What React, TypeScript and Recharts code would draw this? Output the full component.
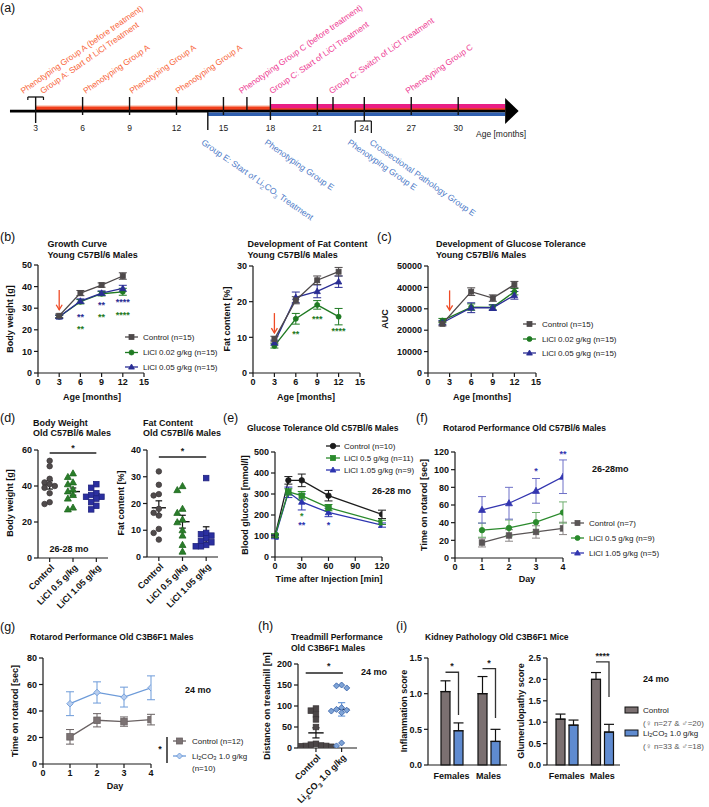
import React from 'react';
import {
  ComposedChart, LineChart, Line, XAxis, YAxis, ErrorBar, ReferenceLine, ReferenceDot,
  ReferenceArea, ScatterChart, Scatter, BarChart, Bar,
} from 'recharts';

const FONT = 'Arial, "Liberation Sans", Helvetica, sans-serif';

const C_GRAY = '#4e494a';
const C_GREEN = '#1f7a22';
const C_NAVY = '#2a2d94';
const C_BLACK = '#1c1c1c';
const C_LIGHTBLUE = '#6d9bd9';
const C_RED_ARROW = '#ef4b26';
const TL_RED = '#f2401d';
const TL_ORANGE = '#f8653a';
const TL_PINK = '#e91e84';
const TL_PINK_TXT = '#ee3b93';
const TL_BLUE = '#2f5faf';
const TL_BLUE_TXT = '#4f7cc8';
const BAR_GRAY = '#7b7071';
const BAR_BLUE = '#5f8bd0';

// ---------------- (a) timeline ----------------
const tlMonths = [3, 6, 9, 12, 15, 18, 21, 24, 27, 30];
const tlMinor = [16.5, 22];
const tlGroupAStart = 3;
const tlGroupCStart = 18;
const tlGroupEStart = 14;
const tlAxisStart = 1.36;
const tlAxisEnd = 33;
const tlUpLabels = [
  'Phenotyping Group A (before treatment)', 'Group A: Start of LiCl Treatment',
  'Phenotyping Group A', 'Phenotyping Group A', 'Phenotyping Group A',
  'Phenotyping Group C (before treatment)', 'Group C: Start of LiCl Treatment',
  'Group C: Switch of LiCl Treatment', 'Phenotyping Group C',
];
const tlUpMonths = [2.2, 3.45, 6.2, 9.15, 12.1, 16.15, 18.1, 21.9, 26.8];
const tlUpGroup = ['A', 'A', 'A', 'A', 'A', 'C', 'C', 'C', 'C'];
const tlDownLabels = ['Group E: Start of Li2CO3 Treatment', 'Phenotyping Group E', 'Phenotyping Group E', 'Crossectional Pathology Group E'];
const tlDownMonths = [13.8, 17.85, 23.15, 24.55];

// ---------------- (b) growth ----------------
const growthAge = [3, 6, 9, 12];
const growthControl = [26.5, 37, 40.7, 44.9];
const growthControlErr = [0.8, 1.2, 1.0, 1.5];
const growthLow = [26, 33, 36.7, 37.6];
const growthLowErr = [0.7, 1.0, 1.0, 1.6];
const growthHigh = [26, 33.3, 37, 39.2];
const growthHighErr = [0.7, 1.0, 1.0, 1.4];

// ---------------- (b) fat ----------------
const fatAge = [3, 6, 9, 12];
const fatControl = [9.5, 20.4, 26, 28.4];
const fatControlErr = [0.8, 1.0, 1.2, 1.2];
const fatLow = [7.6, 15.2, 19.1, 15.8];
const fatLowErr = [0.6, 1.5, 1.2, 2.3];
const fatHigh = [8.5, 21.2, 22.9, 25.6];
const fatHighErr = [0.7, 1.5, 1.8, 1.6];

// ---------------- (c) AUC ----------------
const aucAge = [2, 6, 9, 12];
const aucControl = [23000, 38000, 35000, 41300];
const aucControlErr = [1000, 1800, 1500, 1500];
const aucLow = [24500, 30800, 30700, 38000];
const aucLowErr = [1000, 1500, 1200, 1500];
const aucHigh = [23500, 30500, 30500, 36300];
const aucHighErr = [1000, 2300, 1300, 1800];

// ---------------- (d) dot plots ----------------
const dotCats = ['Control', 'LiCl 0.5 g/kg', 'LiCl 1.05 g/kg'];
const bwControl = [54, 51, 44, 42, 41, 40, 39, 36, 31, 30];
const bwLow = [47, 45, 42, 41, 38, 37, 35, 33, 28, 27];
const bwHigh = [41, 39, 36, 35, 34, 34, 33, 31, 29, 27];
const bwMean = [40.6, 36.9, 34.3];
const bwSem = [2.3, 2.0, 1.5];
const fdControl = [32, 27, 23.5, 23, 18, 16.5, 15.5, 10.5, 9, 6.5];
const fdLow = [26.5, 25, 18, 16.5, 14, 13, 10, 8, 4.5, 2];
const fdHigh = [29.5, 9, 8.5, 8, 7, 6, 5.5, 4.5, 4, 4];
const fdMean = [18.4, 13.2, 8.4];
const fdSem = [2.6, 2.4, 2.9];

// ---------------- (e) glucose ----------------
const glucTime = [0, 15, 30, 60, 120];
const glucControl = [100, 365, 365, 292, 203];
const glucControlErr = [8, 18, 30, 25, 20];
const glucLow = [103, 310, 292, 235, 165];
const glucLowErr = [8, 15, 20, 15, 10];
const glucHigh = [95, 308, 262, 212, 152];
const glucHighErr = [8, 25, 38, 20, 10];

// ---------------- (f) rotarod C57 ----------------
const days = [1, 2, 3, 4];
const rotControl = [17.5, 25.5, 29.5, 33.5];
const rotControlErr = [5, 6.5, 7, 7];
const rotLow = [31.5, 34, 40.5, 51.5];
const rotLowErr = [8, 9, 11, 12];
const rotHigh = [54.5, 62, 76, 92];
const rotHighErr = [15, 18, 14, 19];

// ---------------- (g) rotarod C3B6F1 ----------------
const c3Control = [20.5, 33, 32, 33.5];
const c3ControlErr = [5.5, 5, 3.5, 4];
const c3Li = [45.5, 54, 50.5, 57.5];
const c3LiErr = [9, 8, 7.5, 9];

// ---------------- (h) treadmill ----------------
const tmControl = [94, 89, 80, 68, 50, 10, 8, 6, 5, 5, 4, 3];
const tmLi = [150, 148, 143, 96, 92, 90, 88, 84, 12, 5];
const tmMean = [36, 92];
const tmSem = [12, 16];

// ---------------- (i) kidney ----------------
const kidneyGroups = ['Females', 'Males'];
const inflControl = [1.03, 1.0];
const inflControlErr = [0.15, 0.24];
const inflLi = [0.48, 0.33];
const inflLiErr = [0.11, 0.17];
const glumControl = [1.07, 2.0];
const glumControlErr = [0.12, 0.16];
const glumLi = [0.93, 0.77];
const glumLiErr = [0.12, 0.18];

// ---------------- helpers ----------------
const Y_W = 40, M_T = 14, M_R = 14;
function frame(L: number, T: number, R: number, B: number, xH = 40) {
  return {
    left: L - Y_W, top: T - M_T, width: Y_W + (R - L) + M_R, height: M_T + (B - T) + xH, xH,
    margin: { top: M_T, right: M_R, left: 0, bottom: 0 },
  };
}

const axisCommon: any = {
  stroke: '#1a1a1a',
  tick: { fontSize: 9, fontWeight: 700, fill: '#111', fontFamily: FONT },
  tickSize: 4,
  tickMargin: 2,
  axisLine: { stroke: '#1a1a1a', strokeWidth: 1.2 },
  tickLine: { stroke: '#1a1a1a', strokeWidth: 1.2 },
};

function markerEl(kind: string, cx: number, cy: number, s: number, fill: string, stroke: string) {
  if (kind === 'square') return <rect x={cx - s / 2} y={cy - s / 2} width={s} height={s} fill={fill} stroke={stroke} strokeWidth={0.8} />;
  if (kind === 'circle') return <circle cx={cx} cy={cy} r={s / 2} fill={fill} stroke={stroke} strokeWidth={0.8} />;
  if (kind === 'tri') return <polygon points={`${cx},${cy - s * 0.6} ${cx - s * 0.58},${cy + s * 0.42} ${cx + s * 0.58},${cy + s * 0.42}`} fill={fill} stroke={stroke} strokeWidth={0.8} />;
  return <polygon points={`${cx},${cy - s / 2} ${cx + s / 2},${cy} ${cx},${cy + s / 2} ${cx - s / 2},${cy}`} fill={fill} stroke={stroke} strokeWidth={0.9} />;
}

const mk = (kind: string, fill: string, stroke: string, s: number) => (p: any) => {
  if (p.cx == null || p.cy == null) return <g key={p.key} />;
  return <g key={p.key ?? `${p.cx}-${p.cy}`}>{markerEl(kind, p.cx, p.cy, s, fill, stroke)}</g>;
};

const starShape = (text: string, color: string, fs = 9) => (p: any) => (
  <text x={p.cx} y={p.cy + 2} textAnchor="middle" dominantBaseline="central" fontSize={fs} fontWeight={700} fill={color} fontFamily={FONT}>{text}</text>
);

const arrowHead = (color: string) => (p: any) => (
  <path d={`M ${p.cx - 3} ${p.cy - 5} L ${p.cx} ${p.cy} L ${p.cx + 3} ${p.cy - 5}`} fill="none" stroke={color} strokeWidth={1.3} />
);

function rowsOf(xs: number[], cols: Record<string, number[]>) {
  return xs.map((x, i) => {
    const r: any = { x };
    Object.keys(cols).forEach((k) => { r[k] = cols[k][i]; });
    return r;
  });
}

type SeriesDef = { key: string; errKey: string; color: string; marker: string; fill?: string; size: number; err?: string };

function XYChart(props: {
  L: number; T: number; R: number; B: number; rows: any[];
  xDomain: [number, number]; xTicks: number[]; yDomain: [number, number]; yTicks: number[];
  series: SeriesDef[]; children?: React.ReactNode;
}) {
  const f = frame(props.L, props.T, props.R, props.B);
  return (
    <div style={{ position: 'absolute', left: f.left, top: f.top }}>
      <LineChart width={f.width} height={f.height} margin={f.margin} data={props.rows}>
        <XAxis type="number" dataKey="x" domain={props.xDomain} ticks={props.xTicks} interval={0} height={f.xH} allowDataOverflow {...axisCommon} />
        <YAxis type="number" domain={props.yDomain} ticks={props.yTicks} interval={0} width={Y_W} allowDataOverflow {...axisCommon} />
        {props.series.map((s) => (
          <Line key={s.key} dataKey={s.key} stroke={s.color} strokeWidth={1.3} isAnimationActive={false}
            dot={mk(s.marker, s.fill ?? s.color, s.color, s.size)} activeDot={false}>
            <ErrorBar dataKey={s.errKey} width={4} stroke={s.err ?? s.color} strokeWidth={1} direction="y" />
          </Line>
        ))}
        {props.children}
      </LineChart>
    </div>
  );
}

function swarm(vals: number[], center: number, thr: number, step: number) {
  const placed: { v: number; k: number }[] = [];
  const order = [0, -1, 1, -2, 2, -3, 3, -4, 4];
  return vals.map((v) => {
    const used = placed.filter((p) => Math.abs(p.v - v) < thr).map((p) => p.k);
    const k = order.find((o) => !used.includes(o)) ?? 0;
    placed.push({ v, k });
    return { x: center + k * step, y: v };
  });
}

function seg(key: string, x1: number, y1: number, x2: number, y2: number, color = '#111', w = 1.3) {
  return <ReferenceLine key={key} segment={[{ x: x1, y: y1 }, { x: x2, y: y2 }]} stroke={color} strokeWidth={w} ifOverflow="visible" />;
}

function meanSem(prefix: string, x: number, mean: number, sem: number, color: string, meanColor = '#111', half = 0.3, cap = 0.14) {
  return [
    seg(`${prefix}m`, x - half, mean, x + half, mean, meanColor, 1.4),
    seg(`${prefix}v`, x, mean - sem, x, mean + sem, color, 1.2),
    seg(`${prefix}t`, x - cap, mean + sem, x + cap, mean + sem, color, 1.2),
    seg(`${prefix}b`, x - cap, mean - sem, x + cap, mean - sem, color, 1.2),
  ];
}

const LiCO = (fs: number) => [
  <tspan key="a">Li</tspan>,
  <tspan key="b" dy={fs * 0.3} fontSize={fs * 0.7}>2</tspan>,
  <tspan key="c" dy={-fs * 0.3}>CO</tspan>,
  <tspan key="d" dy={fs * 0.3} fontSize={fs * 0.7}>3</tspan>,
  <tspan key="e" dy={-fs * 0.3}> 1.0 g/kg</tspan>,
];

// ---------------- panels ----------------
function Timeline() {
  const W = 709, H = 240;
  const rows = tlMonths.map((m) => ({ m, y: 111 }));
  const tickBottom = (m: number) => (m === 3 ? 123 : m === 18 ? 120 : m === 24 ? 121 : 115);
  return (
    <div style={{ position: 'absolute', left: 0, top: 0 }}>
      <ComposedChart width={W} height={H} data={rows} margin={{ top: 0, bottom: 0, left: 4.35, right: W - 520.8 }}>
        <XAxis type="number" dataKey="m" domain={[1, 34]} hide allowDataOverflow />
        <YAxis type="number" domain={[0, H]} reversed hide allowDataOverflow />
        <Line dataKey="y" stroke="none" dot={false} isAnimationActive={false} />
        <ReferenceArea x1={tlGroupAStart} x2={tlAxisEnd} y1={106} y2={110.3} fill={TL_RED} fillOpacity={1} stroke="none" ifOverflow="visible" />
        <ReferenceArea x1={tlGroupAStart} x2={tlGroupCStart} y1={105.4} y2={106.8} fill="#f8a58e" fillOpacity={1} stroke="none" ifOverflow="visible" />
        <ReferenceArea x1={tlGroupCStart} x2={tlAxisEnd} y1={104} y2={108.3} fill={TL_PINK} fillOpacity={1} stroke="none" ifOverflow="visible" />
        <ReferenceArea x1={tlAxisStart} x2={tlAxisEnd} y1={109.8} y2={112.6} fill="#000" fillOpacity={1} stroke="none" ifOverflow="visible" />
        <ReferenceArea x1={tlGroupEStart} x2={tlAxisEnd} y1={112.6} y2={116} fill={TL_BLUE} fillOpacity={1} stroke="none" ifOverflow="visible" />
        <ReferenceDot x={tlAxisEnd} y={111} r={1} ifOverflow="visible"
          shape={(p: any) => <polygon points={`${p.cx},${p.cy - 13} ${p.cx + 13.5},${p.cy} ${p.cx},${p.cy + 13}`} fill="#000" />} />
        {tlMonths.map((m) => seg(`t${m}`, m, 97, m, tickBottom(m), '#111', 1.4))}
        {tlMinor.map((m) => seg(`tm${m}`, m, 97, m, 110, '#111', 1.4))}
        {seg('tE', tlGroupEStart, 112, tlGroupEStart, 130, '#111', 1.4)}
        {seg('br3', 2.5, 97, 3.5, 97, '#111', 1.3)}
        {seg('br3l', 2.5, 97, 2.5, 100, '#111', 1.2)}
        {seg('br3r', 3.5, 97, 3.5, 100, '#111', 1.2)}
        {seg('bx24t', 23.42, 121, 24.45, 121, '#111', 1.2)}
        {seg('bx24l', 23.42, 121, 23.42, 133, '#111', 1.2)}
        {seg('bx24r', 24.45, 121, 24.45, 133, '#111', 1.2)}
        {tlMonths.map((m) => (
          <ReferenceDot key={`tl${m}`} x={m} y={128} r={1} ifOverflow="visible"
            shape={(p: any) => <text x={p.cx} y={p.cy} textAnchor="middle" dominantBaseline="central" fontSize={8.5} fill="#222" fontFamily={FONT}>{m}</text>} />
        ))}
        {tlUpLabels.map((t, i) => (
          <ReferenceDot key={`u${i}`} x={tlUpMonths[i]} y={94} r={1} ifOverflow="visible"
            shape={(p: any) => (
              <text x={p.cx} y={p.cy} transform={`rotate(-35 ${p.cx} ${p.cy})`} fontSize={8.3}
                fill={tlUpGroup[i] === 'A' ? TL_ORANGE : TL_PINK_TXT} fontFamily={FONT}>{t}</text>
            )} />
        ))}
        {tlDownLabels.map((t, i) => (
          <ReferenceDot key={`d${i}`} x={tlDownMonths[i]} y={138} r={1} ifOverflow="visible"
            shape={(p: any) => (
              <text x={p.cx} y={p.cy + 7} transform={`rotate(35 ${p.cx} ${p.cy})`} fontSize={8.6} fill={TL_BLUE_TXT} fontFamily={FONT}>
                {t.includes('Li2CO3') ? [
                  <tspan key="a">Group E: Start of Li</tspan>,
                  <tspan key="b" dy={2.5} fontSize={6}>2</tspan>,
                  <tspan key="c" dy={-2.5}>CO</tspan>,
                  <tspan key="d" dy={2.5} fontSize={6}>3</tspan>,
                  <tspan key="e" dy={-2.5}> Treatment</tspan>,
                ] : t}
              </text>
            )} />
        ))}
      </ComposedChart>
    </div>
  );
}

function GrowthChart() {
  const rows = rowsOf(growthAge, { c: growthControl, ce: growthControlErr, lo: growthLow, loe: growthLowErr, hi: growthHigh, hie: growthHighErr });
  return (
    <XYChart L={38} T={265} R={144} B={373} rows={rows} xDomain={[0, 15]} xTicks={[0, 3, 6, 9, 12, 15]} yDomain={[0, 50]} yTicks={[0, 10, 20, 30, 40, 50]}
      series={[
        { key: 'lo', errKey: 'loe', color: C_GREEN, marker: 'circle', size: 5 },
        { key: 'hi', errKey: 'hie', color: C_NAVY, marker: 'tri', size: 5.5 },
        { key: 'c', errKey: 'ce', color: C_GRAY, marker: 'square', size: 5 },
      ]}>
      {seg('ar', 3, 38.4, 3, 29.3, C_RED_ARROW, 1.3)}
      <ReferenceDot x={3} y={29.3} r={1} ifOverflow="visible" shape={arrowHead(C_RED_ARROW)} />
      <ReferenceDot x={6} y={26.9} r={1} ifOverflow="visible" shape={starShape('**', C_NAVY)} />
      <ReferenceDot x={6} y={21.3} r={1} ifOverflow="visible" shape={starShape('**', C_GREEN)} />
      <ReferenceDot x={9} y={32.4} r={1} ifOverflow="visible" shape={starShape('**', C_NAVY)} />
      <ReferenceDot x={9} y={26.9} r={1} ifOverflow="visible" shape={starShape('**', C_GREEN)} />
      <ReferenceDot x={12} y={33.6} r={1} ifOverflow="visible" shape={starShape('****', C_NAVY)} />
      <ReferenceDot x={12} y={27.8} r={1} ifOverflow="visible" shape={starShape('****', C_GREEN)} />
    </XYChart>
  );
}

function FatChart() {
  const rows = rowsOf(fatAge, { c: fatControl, ce: fatControlErr, lo: fatLow, loe: fatLowErr, hi: fatHigh, hie: fatHighErr });
  return (
    <XYChart L={253} T={266} R={360} B={373} rows={rows} xDomain={[0, 15]} xTicks={[0, 3, 6, 9, 12, 15]} yDomain={[0, 30]} yTicks={[0, 10, 20, 30]}
      series={[
        { key: 'lo', errKey: 'loe', color: C_GREEN, marker: 'circle', size: 5 },
        { key: 'hi', errKey: 'hie', color: C_NAVY, marker: 'tri', size: 5.5 },
        { key: 'c', errKey: 'ce', color: C_GRAY, marker: 'square', size: 5 },
      ]}>
      {seg('ar', 3, 16.8, 3, 11.2, C_RED_ARROW, 1.3)}
      <ReferenceDot x={3} y={11.2} r={1} ifOverflow="visible" shape={arrowHead(C_RED_ARROW)} />
      <ReferenceDot x={6} y={11.4} r={1} ifOverflow="visible" shape={starShape('**', C_GREEN)} />
      <ReferenceDot x={9} y={15.6} r={1} ifOverflow="visible" shape={starShape('***', C_GREEN)} />
      <ReferenceDot x={12} y={12.3} r={1} ifOverflow="visible" shape={starShape('****', C_GREEN)} />
    </XYChart>
  );
}

function AucChart() {
  const rows = rowsOf(aucAge, { c: aucControl, ce: aucControlErr, lo: aucLow, loe: aucLowErr, hi: aucHigh, hie: aucHighErr });
  return (
    <XYChart L={428} T={266} R={536} B={373} rows={rows} xDomain={[0, 15]} xTicks={[0, 3, 6, 9, 12, 15]} yDomain={[0, 50000]} yTicks={[0, 10000, 20000, 30000, 40000, 50000]}
      series={[
        { key: 'lo', errKey: 'loe', color: C_GREEN, marker: 'circle', size: 5 },
        { key: 'hi', errKey: 'hie', color: C_NAVY, marker: 'tri', size: 5.5 },
        { key: 'c', errKey: 'ce', color: C_GRAY, marker: 'square', size: 5 },
      ]}>
      {seg('ar', 3, 38600, 3, 29300, C_RED_ARROW, 1.3)}
      <ReferenceDot x={3} y={29300} r={1} ifOverflow="visible" shape={arrowHead(C_RED_ARROW)} />
    </XYChart>
  );
}

function DotPlot(p: {
  L: number; T: number; R: number; B: number; groups: number[][]; kinds: string[]; fills: string[]; strokes: string[]; sizes: number[];
  labels: React.ReactNode[]; xDomain: [number, number]; yDomain: [number, number]; yTicks: number[];
  means: number[]; sems: number[]; semColors: string[]; meanColors: string[]; thr: number; step: number;
  sig: { x1: number; x2: number; y: number; sx: number; sy: number };
}) {
  const f = frame(p.L, p.T, p.R, p.B, 70);
  const cats = p.groups.map((_, i) => i + 1);
  const tick = (tp: any) => {
    const i = Math.round(tp.payload.value) - 1;
    const x = tp.x + 3, y = tp.y + 2;
    return (
      <text x={x} y={y} transform={`rotate(-45 ${x} ${y})`} textAnchor="end" dominantBaseline="central" fontSize={9} fontWeight={700} fill="#111" fontFamily={FONT}>
        {p.labels[i]}
      </text>
    );
  };
  return (
    <div style={{ position: 'absolute', left: f.left, top: f.top }}>
      <ScatterChart width={f.width} height={f.height} margin={f.margin}>
        <XAxis type="number" dataKey="x" domain={p.xDomain} ticks={cats} interval={0} height={f.xH} allowDataOverflow {...axisCommon} tick={tick} />
        <YAxis type="number" dataKey="y" domain={p.yDomain} ticks={p.yTicks} interval={0} width={Y_W} allowDataOverflow {...axisCommon} />
        {p.groups.map((g, i) => (
          <Scatter key={i} data={swarm(g, i + 1, p.thr, p.step)} isAnimationActive={false}
            shape={mk(p.kinds[i], p.fills[i], p.strokes[i], p.sizes[i])} />
        ))}
        {p.groups.map((_, i) => meanSem(`ms${i}`, i + 1, p.means[i], p.sems[i], p.semColors[i], p.meanColors[i]))}
        {seg('sig', p.sig.x1, p.sig.y, p.sig.x2, p.sig.y, '#222', 1.4)}
        <ReferenceDot x={p.sig.sx} y={p.sig.sy} r={1} ifOverflow="visible" shape={starShape('*', '#222')} />
      </ScatterChart>
    </div>
  );
}

function GlucoseChart() {
  const rows = rowsOf(glucTime, { c: glucControl, ce: glucControlErr, lo: glucLow, loe: glucLowErr, hi: glucHigh, hie: glucHighErr });
  return (
    <XYChart L={275} T={452} R={382} B={557} rows={rows} xDomain={[0, 120]} xTicks={[0, 30, 60, 90, 120]} yDomain={[0, 500]} yTicks={[0, 100, 200, 300, 400, 500]}
      series={[
        { key: 'c', errKey: 'ce', color: C_BLACK, marker: 'circle', size: 5.5 },
        { key: 'hi', errKey: 'hie', color: '#2c34b0', marker: 'tri', size: 5.5 },
        { key: 'lo', errKey: 'loe', color: '#2a8a2c', marker: 'square', size: 5.5 },
      ]}>
      <ReferenceDot x={30} y={205} r={1} ifOverflow="visible" shape={starShape('*', '#2a8a2c')} />
      <ReferenceDot x={30} y={163} r={1} ifOverflow="visible" shape={starShape('**', '#2c34b0')} />
      <ReferenceDot x={60} y={163} r={1} ifOverflow="visible" shape={starShape('*', '#2c34b0')} />
    </XYChart>
  );
}

function RotarodChart() {
  const rows = rowsOf(days, { c: rotControl, ce: rotControlErr, lo: rotLow, loe: rotLowErr, hi: rotHigh, hie: rotHighErr });
  return (
    <XYChart L={455} T={452} R={563} B={558} rows={rows} xDomain={[0, 4]} xTicks={[0, 1, 2, 3, 4]} yDomain={[0, 120]} yTicks={[0, 20, 40, 60, 80, 100, 120]}
      series={[
        { key: 'c', errKey: 'ce', color: '#5a5556', marker: 'square', size: 5.5, err: '#8a8585' },
        { key: 'lo', errKey: 'loe', color: '#2a8a2c', marker: 'circle', size: 5.5, err: '#6fae6f' },
        { key: 'hi', errKey: 'hie', color: '#3336b0', marker: 'tri', size: 6, err: '#6e70c8' },
      ]}>
      <ReferenceDot x={3} y={100.6} r={1} ifOverflow="visible" shape={starShape('*', '#3336b0')} />
      <ReferenceDot x={4} y={119.8} r={1} ifOverflow="visible" shape={starShape('**', '#3336b0')} />
    </XYChart>
  );
}

function C3RotarodChart() {
  const rows = rowsOf(days, { c: c3Control, ce: c3ControlErr, li: c3Li, lie: c3LiErr });
  return (
    <XYChart L={43} T={658} R={151} B={764} rows={rows} xDomain={[0, 4]} xTicks={[0, 1, 2, 3, 4]} yDomain={[0, 80]} yTicks={[0, 20, 40, 60, 80]}
      series={[
        { key: 'c', errKey: 'ce', color: '#6a6263', marker: 'square', size: 6.5, fill: '#7b7273' },
        { key: 'li', errKey: 'lie', color: C_LIGHTBLUE, marker: 'diamond', size: 6.5, fill: '#b7cdee' },
      ]} />
  );
}

function TreadmillChart() {
  return (
    <DotPlot L={298} T={664} R={357} B={748} groups={[tmControl, tmLi]} kinds={['square', 'diamond']}
      fills={['#4b4647', '#7ea3d6']} strokes={['#3b3637', '#3e68ad']} sizes={[5.5, 6]}
      labels={['Control', LiCO(9)]} xDomain={[0.3, 2.6]} yDomain={[0, 200]} yTicks={[0, 50, 100, 150, 200]}
      means={tmMean} sems={tmSem} semColors={['#111', C_LIGHTBLUE]} meanColors={['#111', '#222']} thr={12} step={0.2}
      sig={{ x1: 0.6, x2: 2.05, y: 178.6, sx: 1.5, sy: 199 }} />
  );
}

function bracketLabel(rows: any[], levels: (number | null)[], ends: number[], stars: string[], gap: number) {
  return (p: any) => {
    let i = p.index;
    if (i == null) i = rows.findIndex((r) => r.c === p.value);
    if (i == null || i < 0 || levels[i] == null || !p.value) return null;
    const ppu = p.height / p.value;
    const base = p.y + p.height;
    const x1 = p.x + p.width / 2;
    const x2 = x1 + p.width + gap;
    const yTop = base - (levels[i] as number) * ppu;
    const yEnd = base - ends[i] * ppu;
    return (
      <g>
        <path d={`M ${x1} ${yTop} L ${x2} ${yTop} L ${x2} ${yEnd}`} fill="none" stroke="#333" strokeWidth={1.3} />
        <text x={(x1 + x2) / 2} y={yTop - 6} textAnchor="middle" dominantBaseline="central" fontSize={9} fontWeight={700} fill="#222" fontFamily={FONT}>{stars[i]}</text>
      </g>
    );
  };
}

function KidneyChart(p: {
  L: number; T: number; R: number; B: number; ctrl: number[]; ctrlErr: number[]; li: number[]; liErr: number[];
  yDomain: [number, number]; yTicks: number[]; padLeft: number; levels: (number | null)[]; ends: number[]; stars: string[];
}) {
  const f = frame(p.L, p.T, p.R, p.B);
  const rows = kidneyGroups.map((g, i) => ({ g, c: p.ctrl[i], ce: [0, p.ctrlErr[i]], l: p.li[i], le: [0, p.liErr[i]] }));
  const gap = 4;
  return (
    <div style={{ position: 'absolute', left: f.left, top: f.top }}>
      <BarChart width={f.width} height={f.height} margin={f.margin} data={rows} barSize={9} barGap={gap}>
        <XAxis dataKey="g" padding={{ left: p.padLeft, right: 0 }} height={f.xH} {...axisCommon} tickLine={false} tickMargin={4} />
        <YAxis type="number" domain={p.yDomain} ticks={p.yTicks} interval={0} width={Y_W} tickFormatter={(v: number) => v.toFixed(1)} {...axisCommon} />
        <Bar dataKey="c" fill={BAR_GRAY} stroke="#111" strokeWidth={1.2} isAnimationActive={false}
          label={bracketLabel(rows, p.levels, p.ends, p.stars, gap)}>
          <ErrorBar dataKey="ce" width={5} stroke="#111" strokeWidth={1.2} direction="y" />
        </Bar>
        <Bar dataKey="l" fill={BAR_BLUE} stroke="#111" strokeWidth={1.2} isAnimationActive={false}>
          <ErrorBar dataKey="le" width={5} stroke="#111" strokeWidth={1.2} direction="y" />
        </Bar>
      </BarChart>
    </div>
  );
}

// ---------------- overlay text ----------------
function T(props: { x: number; y: number; children: React.ReactNode; size?: number; bold?: boolean; anchor?: string; color?: string; rot?: number }) {
  const { x, y, size = 9, bold = true, anchor = 'start', color = '#111', rot } = props;
  return (
    <text x={x} y={y} fontSize={size} fontWeight={bold ? 700 : 400} textAnchor={anchor as any} dominantBaseline="central" fill={color}
      fontFamily={FONT} transform={rot ? `rotate(${rot} ${x} ${y})` : undefined}>{props.children}</text>
  );
}

function LegendRow(props: { x1: number; x2: number; y: number; color: string; kind: string; fill?: string; size?: number; text: React.ReactNode; tx: number }) {
  const { x1, x2, y, color, kind, fill, size = 5, text, tx } = props;
  return (
    <g>
      <line x1={x1} y1={y} x2={x2} y2={y} stroke={color} strokeWidth={1.3} />
      {markerEl(kind, (x1 + x2) / 2, y, size, fill ?? color, color)}
      <T x={tx} y={y} size={8} bold={false} color="#222">{text}</T>
    </g>
  );
}

function Overlay() {
  return (
    <svg width={709} height={807} style={{ position: 'absolute', left: 0, top: 0, pointerEvents: 'none' }}>
      {/* panel letters */}
      <T x={0} y={8} size={12.5} bold={false}>(a)</T>
      <T x={0} y={237} size={12.5} bold={false}>(b)</T>
      <T x={377} y={237} size={12.5} bold={false}>(c)</T>
      <T x={0} y={418} size={12.5} bold={false}>(d)</T>
      <T x={223} y={418} size={12.5} bold={false}>(e)</T>
      <T x={416} y={418} size={12.5} bold={false}>(f)</T>
      <T x={0} y={627} size={12.5} bold={false}>(g)</T>
      <T x={258} y={626} size={12.5} bold={false}>(h)</T>
      <T x={396} y={626} size={12.5} bold={false}>(i)</T>

      <T x={476} y={134} size={8.5} bold={false} color="#222">Age [months]</T>

      {/* titles */}
      <T x={47.5} y={244}>Growth Curve</T>
      <T x={47.5} y={255}>Young C57Bl/6 Males</T>
      <T x={247.5} y={244}>Development of Fat Content</T>
      <T x={247.5} y={255}>Young C57Bl/6 Males</T>
      <T x={436} y={244}>Development of Glucose Tolerance</T>
      <T x={436} y={255}>Young C57Bl/6 Males</T>
      <T x={33} y={423}>Body Weight</T>
      <T x={33} y={433}>Old C57Bl/6 Males</T>
      <T x={143} y={423}>Fat Content</T>
      <T x={143} y={433}>Old C57Bl/6 Males</T>
      <T x={247} y={428} size={8.5}>Glucose Tolerance Old C57Bl/6 Males</T>
      <T x={443} y={428} size={8.5}>Rotarod Performance Old C57Bl/6 Males</T>
      <T x={30} y={637} size={8.5}>Rotarod Performance Old C3B6F1 Males</T>
      <T x={291} y={637} size={8.5}>Treadmill Performance</T>
      <T x={291} y={648} size={8.5}>Old C3B6F1 Males</T>
      <T x={425} y={637} size={8.5}>Kidney Pathology Old C3B6F1 Mice</T>

      {/* axis titles */}
      <T x={92} y={397} anchor="middle">Age [months]</T>
      <T x={306} y={397} anchor="middle">Age [months]</T>
      <T x={482} y={397} anchor="middle">Age [months]</T>
      <T x={329} y={579} anchor="middle">Time after Injection [min]</T>
      <T x={527} y={579} anchor="middle">Day</T>
      <T x={115} y={786} anchor="middle">Day</T>

      <T x={10} y={319} anchor="middle" rot={-90}>Body weight [g]</T>
      <T x={227} y={319} anchor="middle" rot={-90}>Fat content [%]</T>
      <T x={385} y={319} anchor="middle" rot={-90}>AUC</T>
      <T x={10} y={503} anchor="middle" rot={-90}>Body weight [g]</T>
      <T x={121} y={503} anchor="middle" rot={-90}>Fat content [%]</T>
      <T x={245} y={505} anchor="middle" rot={-90}>Blood glucose [mmol/l]</T>
      <T x={424} y={505} anchor="middle" rot={-90}>Time on rotarod [sec]</T>
      <T x={15} y={711} anchor="middle" rot={-90}>Time on rotarod [sec]</T>
      <T x={267} y={706} anchor="middle" rot={-90}>Distance on treadmill [m]</T>
      <T x={404} y={711} anchor="middle" rot={-90}>Inflammation score</T>
      <T x={521} y={711} anchor="middle" rot={-90}>Glumerulopathy score</T>

      {/* annotations */}
      <T x={69} y={549} anchor="middle">26-28 mo</T>
      <T x={372} y={491}>26-28 mo</T>
      <T x={592} y={469}>26-28mo</T>
      <T x={185} y={690}>24 mo</T>
      <T x={361} y={672}>24 mo</T>
      <T x={643} y={679}>24 mo</T>

      {/* legends (b) */}
      <LegendRow x1={125} x2={138} y={337} color={C_GRAY} kind="square" text="Control (n=15)" tx={143} />
      <LegendRow x1={125} x2={138} y={352.5} color={C_GREEN} kind="circle" text="LiCl 0.02 g/kg (n=15)" tx={143} />
      <LegendRow x1={125} x2={138} y={367} color={C_NAVY} kind="tri" text="LiCl 0.05 g/kg (n=15)" tx={143} />
      {/* legends (c) */}
      <LegendRow x1={523} x2={536} y={324} color={C_GRAY} kind="square" text="Control (n=15)" tx={542} />
      <LegendRow x1={523} x2={536} y={339} color={C_GREEN} kind="circle" text="LiCl 0.02 g/kg (n=15)" tx={542} />
      <LegendRow x1={523} x2={536} y={353} color={C_NAVY} kind="tri" text="LiCl 0.05 g/kg (n=15)" tx={542} />
      {/* legends (e) */}
      <LegendRow x1={326} x2={340} y={446} color={C_BLACK} kind="circle" size={5.5} text="Control (n=10)" tx={344} />
      <LegendRow x1={326} x2={340} y={458} color="#2a8a2c" kind="square" text="LiCl 0.5 g/kg (n=11)" tx={344} />
      <LegendRow x1={326} x2={340} y={470} color="#2c34b0" kind="tri" text="LiCl 1.05 g/kg (n=9)" tx={344} />
      {/* legends (f) */}
      <LegendRow x1={571} x2={584} y={523} color="#5a5556" kind="square" text="Control (n=7)" tx={589} />
      <LegendRow x1={571} x2={584} y={538} color="#2a8a2c" kind="circle" text="LiCl 0.5 g/kg (n=9)" tx={589} />
      <LegendRow x1={571} x2={584} y={553} color="#3336b0" kind="tri" text="LiCl 1.05 g/kg (n=5)" tx={589} />
      {/* legends (g) */}
      <T x={160} y={749} anchor="middle">*</T>
      <line x1={167} y1={737} x2={167} y2={763} stroke="#333" strokeWidth={1.6} />
      <LegendRow x1={173} x2={186} y={741} color="#6a6263" kind="square" size={6} fill="#7b7273" text="Control (n=12)" tx={192} />
      <LegendRow x1={173} x2={186} y={756} color={C_LIGHTBLUE} kind="diamond" size={6} fill="#b7cdee" text={LiCO(8)} tx={192} />
      <T x={192} y={768} size={8} bold={false} color="#222">(n=10)</T>
      {/* legends (i) */}
      <rect x={625} y={707} width={13} height={6} fill={BAR_GRAY} stroke="#111" strokeWidth={1} />
      <T x={643} y={710} size={8} bold={false} color="#222">Control</T>
      <T x={643} y={723} size={8} bold={false} color="#555">(♀ n=27 &amp; ♂=20)</T>
      <rect x={625} y={730} width={13} height={6} fill={BAR_BLUE} stroke="#111" strokeWidth={1} />
      <T x={643} y={733} size={8} bold={false} color="#222">{LiCO(8)}</T>
      <T x={643} y={746} size={8} bold={false} color="#555">(♀ n=33 &amp; ♂=18)</T>
    </svg>
  );
}

export default function App() {
  return (
    <div style={{ position: 'absolute', left: 0, top: 0, width: 709, height: 807, background: '#fff', fontFamily: FONT, overflow: 'hidden' }}>
      <Timeline />
      <GrowthChart />
      <FatChart />
      <AucChart />
      <DotPlot L={38} T={450} R={108} B={558} groups={[bwControl, bwLow, bwHigh]} kinds={['circle', 'tri', 'square']}
        fills={['#504b4c', '#2a7d2a', '#2b2fa0']} strokes={['#3f3a3b', '#1f6a1f', '#20237e']} sizes={[5.5, 6, 5.5]}
        labels={dotCats} xDomain={[0.5, 3.5]} yDomain={[0, 60]} yTicks={[0, 20, 40, 60]}
        means={bwMean} sems={bwSem} semColors={['#111', '#111', '#111']} meanColors={['#111', '#111', '#111']} thr={3} step={0.22}
        sig={{ x1: 1, x2: 3, y: 58.3, sx: 2, sy: 62.2 }} />
      <DotPlot L={147} T={450} R={218} B={557} groups={[fdControl, fdLow, fdHigh]} kinds={['circle', 'tri', 'square']}
        fills={['#504b4c', '#2a7d2a', '#2b2fa0']} strokes={['#3f3a3b', '#1f6a1f', '#20237e']} sizes={[5.5, 6, 5.5]}
        labels={dotCats} xDomain={[0.5, 3.5]} yDomain={[0, 40]} yTicks={[0, 10, 20, 30, 40]}
        means={fdMean} sems={fdSem} semColors={['#111', '#111', '#111']} meanColors={['#111', '#111', '#111']} thr={2} step={0.22}
        sig={{ x1: 1, x2: 3, y: 37.4, sx: 2, sy: 40.4 }} />
      <GlucoseChart />
      <RotarodChart />
      <C3RotarodChart />
      <TreadmillChart />
      <KidneyChart L={428} T={658} R={507} B={765} ctrl={inflControl} ctrlErr={inflControlErr} li={inflLi} liErr={inflLiErr}
        yDomain={[0, 1.5]} yTicks={[0, 0.5, 1.0, 1.5]} padLeft={5} levels={[1.3, 1.35]} ends={[0.7, 0.66]} stars={['*', '*']} />
      <KidneyChart L={547} T={658} R={620} B={765} ctrl={glumControl} ctrlErr={glumControlErr} li={glumLi} liErr={glumLiErr}
        yDomain={[0, 2.5]} yTicks={[0, 0.5, 1.0, 1.5, 2.0, 2.5]} padLeft={2} levels={[null, 2.41]} ends={[0, 1.59]} stars={['', '****']} />
      <Overlay />
    </div>
  );
}
